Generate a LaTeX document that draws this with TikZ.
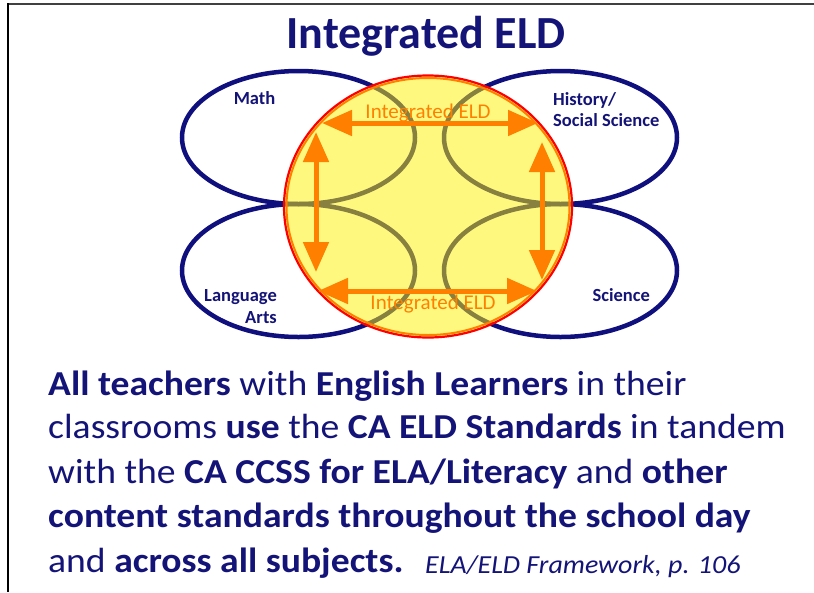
\documentclass[tikz,border=0pt]{standalone}
\usepackage{fontspec}
\setmainfont{Carlito}
\newfontfamily\bodyfont[FakeStretch=1.075]{Carlito}
\usetikzlibrary{arrows.meta,shapes.geometric}
\definecolor{navy}{RGB}{20,20,120}
\definecolor{ringnavy}{RGB}{15,15,125}
\definecolor{elorange}{RGB}{255,128,0}
\tikzset{
  subj/.style={draw=ringnavy, line width=4.5pt, ellipse, inner sep=0pt, minimum width=233pt, minimum height=133pt},
  lbl/.style={text=navy, inner sep=0pt, font=\fontsize{18.5}{22}\selectfont\bfseries},
  olbl/.style={text=elorange, inner sep=0pt, font=\fontsize{21}{24}\selectfont},
  body/.style={text=navy, inner sep=0pt, anchor=base west, font=\bodyfont\fontsize{35}{40}\selectfont},
  earrow/.style={draw=elorange, line width=5pt, {Triangle[length=30pt,width=25pt]}-{Triangle[length=30pt,width=25pt]}}
}
\begin{document}
\begin{tikzpicture}[x=1pt,y=-1pt]
\useasboundingbox (0,0) rectangle (814,592);
\fill[white] (0,0) rectangle (814,592);
% frame
\draw[line width=2pt, black!75] (8,4) -- (814,4);
\draw[line width=2pt, black] (8,3) -- (8,592);
% title
\node[text=navy, inner sep=0pt, anchor=base, font=\fontsize{46}{50}\selectfont\bfseries] (title) at (426,48) {Integrated ELD};
% subject ellipses
\node[subj] (math) at (298.5,137.5) {};
\node[subj] (hist) at (560.5,137.5) {};
\node[subj] (lang) at (298.5,270.5) {};
\node[subj] (sci)  at (560.5,270.5) {};
% integrated circle
\node[ellipse, inner sep=0pt, minimum width=288pt, minimum height=262pt, fill=yellow, fill opacity=0.5, draw=red, draw opacity=1, line width=2.2pt] (eld) at (428,206.5) {};
\node[ellipse, inner sep=0pt, minimum width=283pt, minimum height=257pt, draw=elorange, line width=2pt] (eldin) at (428,206.5) {};
% arrows
\coordinate (tl) at (322,123);
\coordinate (tr) at (538,123);
\coordinate (bl) at (318,291);
\coordinate (br) at (537,291);
\coordinate (lt) at (316,132);
\coordinate (lb) at (316,272);
\coordinate (rt) at (542,142);
\coordinate (rb) at (542,280);
\draw[earrow] (tl) -- (tr);
\draw[earrow] (bl) -- (br);
\draw[earrow] (lt) -- (lb);
\draw[earrow] (rt) -- (rb);
% orange labels
\node[olbl, anchor=base] (itop) at (428,118.3) {Integrated ELD};
\node[olbl, anchor=base] (ibot) at (433,309.3) {Integrated ELD};
% subject labels
\node[lbl, anchor=base] (tmath) at (254.5,104.3) {Math};
\node[lbl, anchor=base west] (thist1) at (553,105) {History/};
\node[lbl, anchor=base west] (thist2) at (553,126.5) {Social Science};
\node[lbl, anchor=base east] (tlang1) at (277,301) {Language};
\node[lbl, anchor=base east] (tlang2) at (277,323.3) {Arts};
\node[lbl, anchor=base] (tsci) at (621.3,301) {Science};
% body text
\node[body] (l1) at (48,395) {\textbf{All teachers} with \textbf{English Learners} in their};
\node[body] (l2) at (48,438.5) {classrooms \textbf{use} the \textbf{CA ELD Standards} in tandem};
\node[body] (l3) at (48,483) {with the \textbf{CA CCSS for ELA/Literacy} and \textbf{other}};
\node[body] (l4) at (48,527) {\textbf{content standards throughout the school day}};
\node[body] (l5) at (48,572) {and \textbf{across all subjects.}};
\node[text=navy, inner sep=0pt, anchor=base west, font=\bodyfont\fontsize{26}{28}\selectfont\itshape] (ref) at (425,573) {ELA/ELD Framework, p. 106};
\end{tikzpicture}
\end{document}
